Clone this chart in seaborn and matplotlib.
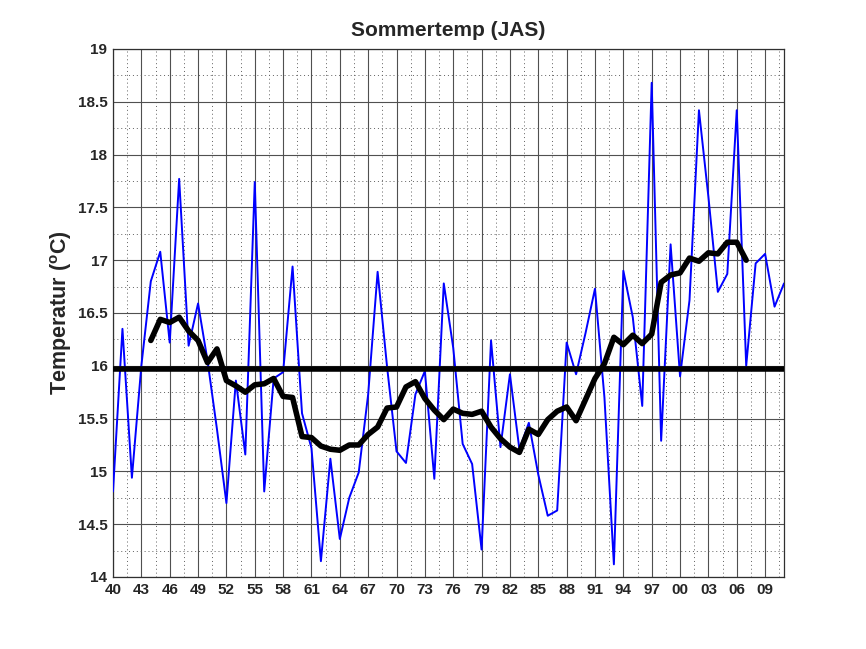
import matplotlib
matplotlib.use("Agg")
import matplotlib.pyplot as plt
import seaborn as sns
import pandas as pd
from matplotlib.ticker import FixedLocator, MultipleLocator

# ---- data ----
years = list(range(1940, 2012))
temps = [14.81, 16.35, 14.94, 16.00, 16.80, 17.08, 16.22, 17.77, 16.19, 16.59,
         16.05, 15.40, 14.70, 15.86, 15.16, 17.74, 14.81, 15.88, 15.94, 16.94,
         15.55, 15.22, 14.15, 15.12, 14.36, 14.75, 14.99, 15.73, 16.89, 15.99,
         15.19, 15.08, 15.73, 15.95, 14.93, 16.78, 16.17, 15.26, 15.07, 14.26,
         16.24, 15.23, 15.92, 15.21, 15.46, 14.97, 14.58, 14.63, 16.22, 15.92,
         16.31, 16.73, 15.70, 14.12, 16.90, 16.46, 15.62, 18.68, 15.29, 17.15,
         15.90, 16.62, 18.42, 17.60, 16.70, 16.87, 18.42, 16.00, 16.97, 17.06,
         16.56, 16.78]
ma_years = list(range(1944, 2008))
ma_temps = [16.24, 16.44, 16.41, 16.46, 16.33, 16.24, 16.03, 16.16, 15.86, 15.81,
            15.75, 15.82, 15.83, 15.88, 15.71, 15.70, 15.33, 15.32, 15.24, 15.21,
            15.20, 15.25, 15.25, 15.35, 15.42, 15.60, 15.61, 15.80, 15.85, 15.69,
            15.58, 15.49, 15.59, 15.55, 15.54, 15.57, 15.42, 15.31, 15.23, 15.18,
            15.40, 15.35, 15.49, 15.57, 15.61, 15.48, 15.68, 15.88, 16.02, 16.27,
            16.20, 16.29, 16.21, 16.30, 16.79, 16.86, 16.88, 17.02, 16.99, 17.07,
            17.06, 17.17, 17.17, 17.00]
mean_temp = 15.97
tick_years = list(range(1940, 2010, 3))
tick_labels = ["%02d" % (y % 100) for y in tick_years]
y_ticks = [14, 14.5, 15, 15.5, 16, 16.5, 17, 17.5, 18, 18.5, 19]
y_tick_labels = ["14", "14.5", "15", "15.5", "16", "16.5", "17", "17.5", "18", "18.5", "19"]
title = "Sommertemp (JAS)"

sns.set_style("white")
plt.rcParams["font.family"] = ["Liberation Sans", "DejaVu Sans"]
plt.rcParams["mathtext.fontset"] = "custom"
plt.rcParams["mathtext.rm"] = "Liberation Sans"
plt.rcParams["mathtext.bf"] = "Liberation Sans:bold"

df = pd.DataFrame({"year": years, "temp": temps})
dfm = pd.DataFrame({"year": ma_years, "temp": ma_temps})

fig = plt.figure(figsize=(8.66, 6.49), dpi=100)
ax = fig.add_axes([113 / 866, 1 - 577 / 649, (784 - 113) / 866, (577 - 49) / 649])

sns.lineplot(data=df, x="year", y="temp", ax=ax, color="#0000ff", linewidth=1.4, zorder=3)
ax.axhline(mean_temp, color="black", linewidth=4, zorder=4)
sns.lineplot(data=dfm, x="year", y="temp", ax=ax, color="black", linewidth=4, zorder=5)

ax.set_xlim(1940, 2011)
ax.set_ylim(14, 19)
ax.set_xticks(tick_years)
ax.set_xticklabels(tick_labels, fontsize=11, fontweight="bold")
ax.set_yticks(y_ticks)
ax.set_yticklabels(y_tick_labels, fontsize=11, fontweight="bold")
ax.xaxis.set_minor_locator(FixedLocator([y + 1.5 for y in tick_years]))
ax.yaxis.set_minor_locator(MultipleLocator(0.25))

ax.grid(which="major", color="#505050", linewidth=0.8, linestyle="-", zorder=1)
ax.grid(which="minor", color="#606060", linewidth=0.7, linestyle=(0, (1, 3)), zorder=1)
ax.set_axisbelow(True)
ax.tick_params(which="both", direction="in", length=0, pad=4)
for s in ax.spines.values():
    s.set_color("#303030")
    s.set_linewidth(0.9)

ax.set_xlabel("")
ax.set_ylabel(r"Temperatur ($^\mathbf{o}$C)", fontsize=15.5, fontweight="bold", labelpad=3)
ax.set_title(title, fontsize=15, fontweight="bold", pad=9)

fig.savefig("out.png", dpi=100)
